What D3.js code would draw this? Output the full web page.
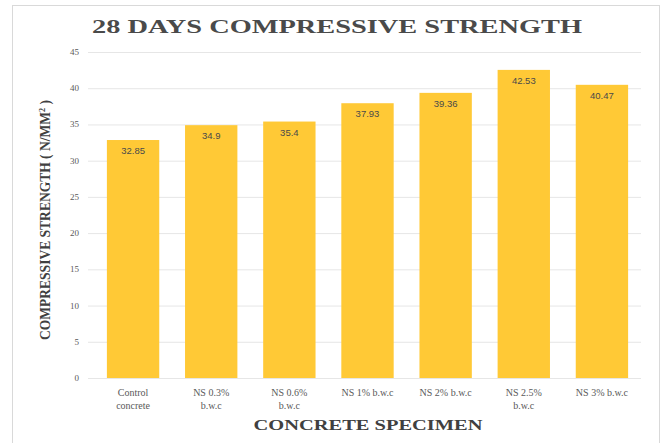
<!DOCTYPE html>
<html><head><meta charset="utf-8">
<script src="https://cdn.jsdelivr.net/npm/d3@7"></script>
<style>body{margin:0;background:#fff}svg{display:block}</style>
</head><body>
<svg id="c" width="668" height="443"></svg>
<script>
const categories = [["Control","concrete"],["NS 0.3%","b.w.c"],["NS 0.6%","b.w.c"],["NS 1% b.w.c"],["NS 2% b.w.c"],["NS 2.5%","b.w.c"],["NS 3% b.w.c"]];
const values = [32.85, 34.9, 35.4, 37.93, 39.36, 42.53, 40.47];
const valueLabels = ["32.85","34.9","35.4","37.93","39.36","42.53","40.47"];
const yTicks = [0,5,10,15,20,25,30,35,40,45];
const title = "28 DAYS COMPRESSIVE STRENGTH";
const xTitle = "CONCRETE SPECIMEN";

const svg = d3.select("#c");
svg.append("rect").attr("x",12.5).attr("y",5.5).attr("width",647).attr("height",440)
  .attr("fill","#fff").attr("stroke","#d9d9d9").attr("stroke-width",1);

const x = d3.scaleBand().domain(d3.range(values.length)).range([94,641]).paddingInner(0.33).paddingOuter(0.165);
const y = d3.scaleLinear().domain([0,45]).range([378,52]);

// gridlines
svg.append("g").selectAll("line").data(yTicks).join("line")
  .attr("x1",88).attr("x2",641).attr("y1",d=>y(d)+0.5).attr("y2",d=>y(d)+0.5)
  .attr("stroke","#e6e6e6").attr("stroke-width",1);

// y tick labels
svg.append("g").selectAll("text").data(yTicks).join("text")
  .attr("x",79).attr("y",d=>y(d)+3).attr("text-anchor","end")
  .attr("font-family","Liberation Serif, Times New Roman, serif").attr("font-size",9).attr("fill","#595959")
  .text(d=>d);

// bars
svg.append("g").selectAll("rect").data(values).join("rect")
  .attr("x",(d,i)=>x(i)).attr("width",x.bandwidth())
  .attr("y",d=>y(d)).attr("height",d=>y(0)-y(d)).attr("fill","#FFC936");

// value labels
svg.append("g").selectAll("text").data(values).join("text")
  .attr("x",(d,i)=>x(i)+x.bandwidth()/2).attr("y",d=>y(d)+14).attr("text-anchor","middle")
  .attr("font-family","Liberation Sans, Arial, sans-serif").attr("font-size",9.5).attr("fill","#4a4a4a")
  .text((d,i)=>valueLabels[i]);

// category labels
const cl = svg.append("g").selectAll("text").data(categories).join("text")
  .attr("text-anchor","middle").attr("font-family","Liberation Serif, Times New Roman, serif")
  .attr("font-size",10).attr("fill","#595959");
cl.each(function(lines,i){
  const t = d3.select(this);
  lines.forEach((ln,j)=>{
    t.append("tspan").attr("x",x(i)+x.bandwidth()/2).attr("y",396+j*13).text(ln);
  });
});

// title
svg.append("text").attr("x",337).attr("y",33).attr("text-anchor","middle")
  .attr("font-family","Liberation Serif, Times New Roman, serif").attr("font-weight","bold")
  .attr("font-size",18).attr("fill","#4a4a4a").attr("textLength",490).attr("lengthAdjust","spacingAndGlyphs")
  .text(title);

// x title
svg.append("text").attr("x",368).attr("y",430).attr("text-anchor","middle")
  .attr("font-family","Liberation Serif, Times New Roman, serif").attr("font-weight","bold")
  .attr("font-size",15).attr("fill","#404040").attr("textLength",229).attr("lengthAdjust","spacingAndGlyphs")
  .text(xTitle);

// y title
const yt = svg.append("text").attr("transform","translate(50,220) rotate(-90)").attr("text-anchor","middle")
  .attr("font-family","Liberation Serif, Times New Roman, serif").attr("font-weight","bold")
  .attr("font-size",15).attr("fill","#404040").attr("textLength",240).attr("lengthAdjust","spacingAndGlyphs");
yt.append("tspan").text("COMPRESSIVE STRENGTH ( N/MM");
yt.append("tspan").attr("baseline-shift","super").attr("font-size",9).text("2");
yt.append("tspan").text(" )");
</script>
</body></html>
